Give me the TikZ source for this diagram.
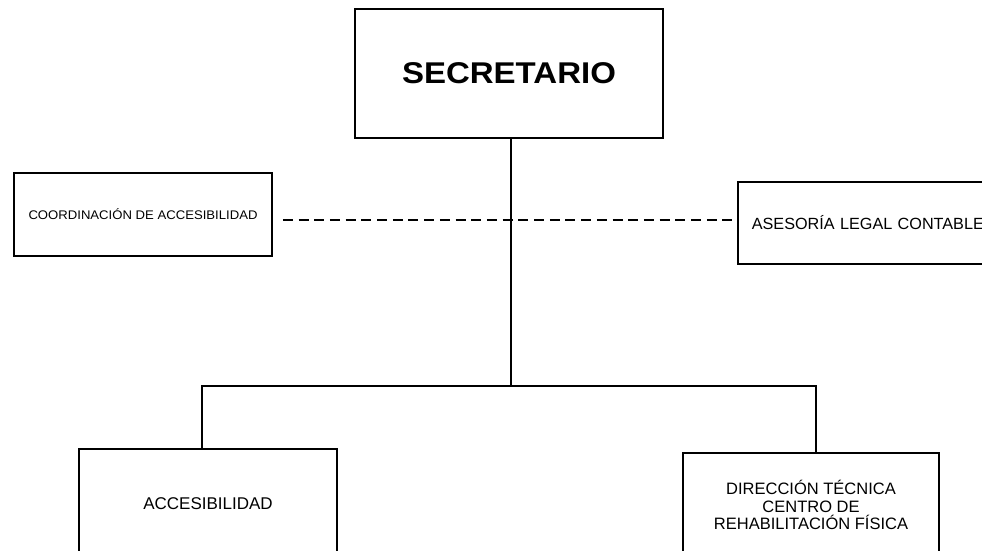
\documentclass[tikz,border=0pt]{standalone}
\usepackage{fontspec}
\setmainfont{Liberation Sans}
\usetikzlibrary{calc}
\tikzset{
  box/.style={draw=black, line width=1.7pt, inner sep=0pt, align=center, fill=white},
  conn/.style={draw=black, line width=1.9pt},
  dashconn/.style={draw=black, line width=2.4pt, dash pattern=on 10pt off 5.7pt},
}
\begin{document}
\begin{tikzpicture}[x=1pt,y=-1pt]
\useasboundingbox (0,0) rectangle (982,551);
\clip (0,0) rectangle (982,551);
\fill[white] (0,0) rectangle (982,551);
\coordinate (j) at (511,386);
\coordinate (d) at (511,220);
% connectors
\draw[conn] (202,449) |- (j) -| (816,453);
% boxes
\node[box, minimum width=308pt, minimum height=129pt] (sec) at (509,73.5)
  {\fontsize{30}{34}\selectfont\bfseries\scalebox{1.1}[1]{SECRETARIO}};
\node[box, minimum width=258pt, minimum height=83pt] (coord) at (143,214.5)
  {\fontsize{12.5}{14}\selectfont\scalebox{1.05}[1]{COORDINACIÓN DE ACCESIBILIDAD}};
\node[box, anchor=west, text width=270pt, inner xsep=14pt, align=left, minimum height=82pt,
  font=\fontsize{16.2}{18}\selectfont] (ase) at (737,223)
  {ASESORÍA LEGAL CONTABLE};
\node[box, minimum width=258pt, minimum height=110pt, font=\fontsize{17}{19}\selectfont] (acc) at (208,504)
  {ACCESIBILIDAD};
\node[box, minimum width=256pt, minimum height=104pt, font=\fontsize{16.5}{17.5}\selectfont] (dir) at (811,505)
  {DIRECCIÓN TÉCNICA\\CENTRO DE\\REHABILITACIÓN FÍSICA};
% dashed staff line
\draw[dashconn] ($(coord.east |- d)+(10,0)$) -- ($(ase.west |- d)+(-4,0)$);
% vertical from secretario to junction
\draw[conn] (sec.south -| j) -- (j);
\end{tikzpicture}
\end{document}
